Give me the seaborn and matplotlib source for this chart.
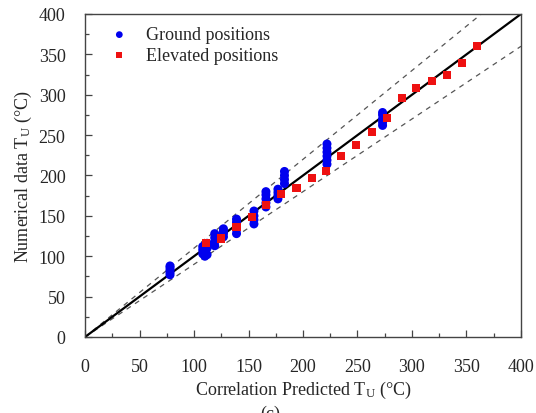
import numpy as np
import pandas as pd
import matplotlib
matplotlib.use("Agg")
import matplotlib.pyplot as plt
from matplotlib.ticker import MultipleLocator
import seaborn as sns

# Ground positions: predicted value and the numerical results at that value
ground_x = [78, 78, 78, 78, 78,
            108, 108, 108, 110, 110, 110, 112, 112, 112,
            119, 119, 119, 119,
            127, 127, 127, 127,
            139, 139, 139, 139, 139,
            155, 155, 155, 155,
            166, 166, 166, 166, 166,
            177, 177, 177, 177,
            183, 183, 183, 183,
            222, 222, 222, 222, 222, 222,
            273, 273, 273, 273, 273]
ground_y = [77, 80, 83, 86, 88,
            103, 108, 112, 100, 106, 114, 102, 110, 116,
            113, 118, 123, 128,
            124, 128, 131, 134,
            128, 133, 138, 142, 146,
            140, 145, 150, 156,
            161, 166, 171, 176, 180,
            171, 175, 179, 183,
            190, 195, 200, 205,
            214, 219, 224, 229, 234, 239,
            262, 266, 270, 275, 278]

# Elevated positions
elevated_x = [111, 125, 139, 153, 166, 180, 194, 208, 221, 235,
              249, 263, 277, 291, 304, 318, 332, 346, 360]
elevated_y = [116, 122, 136, 149, 163, 177, 184, 197, 206, 224,
              238, 254, 271, 296, 308, 317, 325, 339, 360]

# Perfect agreement line and the +/-10 % bands
ref_x = np.array([0, 400])
band_factors = [1.1, 0.9]

sns.set_style("white")
plt.rcParams["font.family"] = ["Liberation Serif", "DejaVu Serif"]
plt.rcParams["mathtext.fontset"] = "custom"
plt.rcParams["mathtext.rm"] = "Liberation Serif"
plt.rcParams["mathtext.it"] = "Liberation Serif:italic"

fig = plt.figure(figsize=(5.36, 4.14), dpi=100)
ax = fig.add_axes([0.1586, 0.1836, 0.8134, 0.7802])

for f in band_factors:
    sns.lineplot(x=ref_x, y=ref_x * f, ax=ax, color="#555555", lw=0.9,
                 linestyle=(0, (4, 4)), zorder=1)
sns.lineplot(x=ref_x, y=ref_x, ax=ax, color="black", lw=1.6, zorder=2)

ground = pd.DataFrame({"x": ground_x, "y": ground_y})
elevated = pd.DataFrame({"x": elevated_x, "y": elevated_y})
sns.scatterplot(data=ground, x="x", y="y", ax=ax, marker="o", s=42,
                color="#0000ee", edgecolor="none", label="Ground positions",
                zorder=3)
sns.scatterplot(data=elevated, x="x", y="y", ax=ax, marker="s", s=34,
                color="#ee1111", edgecolor="none", label="Elevated positions",
                zorder=4)

ax.set_xlim(0, 400)
ax.set_ylim(0, 400)
ax.xaxis.set_major_locator(MultipleLocator(50))
ax.yaxis.set_major_locator(MultipleLocator(50))
ax.xaxis.set_minor_locator(MultipleLocator(25))
ax.yaxis.set_minor_locator(MultipleLocator(25))
ax.tick_params(axis="both", which="major", direction="in", length=5,
               width=0.9, color="#444444", labelsize=13,
               bottom=True, left=True, top=False, right=False)
ax.tick_params(axis="x", which="major", pad=15)
ax.tick_params(axis="y", which="major", pad=14)
ax.tick_params(axis="both", which="minor", direction="in", length=3,
               width=0.9, color="#444444",
               bottom=True, left=True, top=False, right=False)
for side in ["left", "bottom", "top", "right"]:
    ax.spines[side].set_color("#444444")
    ax.spines[side].set_linewidth(1.0)

ax.set_xlabel("Correlation Predicted T$_\\mathrm{U}$ (°C)", fontsize=13,
              labelpad=3)
ax.set_ylabel("Numerical data T$_\\mathrm{U}$ (°C)", fontsize=13, labelpad=3)

leg = ax.legend(loc="upper left", frameon=False, fontsize=13,
                bbox_to_anchor=(0.0, 1.012), handletextpad=0.5,
                labelspacing=0.2, markerscale=0.75)

fig.text(0.505, -0.012, "(c)", ha="center", va="baseline", fontsize=13)

fig.savefig("out.png", dpi=100)
